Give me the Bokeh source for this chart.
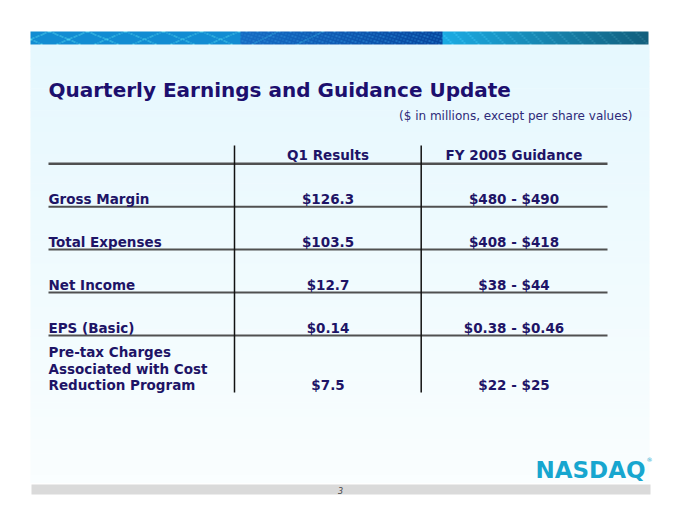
import numpy as np
from bokeh.plotting import figure
from bokeh.models import Range1d
from bokeh.core.properties import value
from bokeh.embed import file_html
from bokeh.resources import INLINE

# ---------------- data ----------------
title_text = "Quarterly Earnings and Guidance Update"
subtitle_text = "($ in millions, except per share values)"
headers = ["Q1 Results", "FY 2005 Guidance"]
row_labels = ["Gross Margin", "Total Expenses", "Net Income", "EPS (Basic)",
              "Pre-tax Charges\nAssociated with Cost\nReduction Program"]
q1_results = ["$126.3", "$103.5", "$12.7", "$0.14", "$7.5"]
fy2005_guidance = ["$480 - $490", "$408 - $418", "$38 - $44", "$0.38 - $0.46", "$22 - $25"]
page_number = "3"
logo_text = "NASDAQ"

# ---------------- layout ----------------
W, H = 664, 509
FONT = "DejaVu Sans"
NAVY = "#1c0f6e"
TEXT_NAVY = "#1e1466"

p = figure(width=W, height=H, x_range=Range1d(0, W), y_range=Range1d(H, 0),
           output_backend="svg", toolbar_location=None, min_border=0,
           x_axis_location=None, y_axis_location=None)
p.grid.visible = False
p.outline_line_color = None
p.background_fill_color = "white"
p.border_fill_color = "white"

# slide background (light blue fading to white)
n_strips = 60
y_top, y_bot = 44, 482
edges = np.linspace(y_top, y_bot, n_strips + 1)
c0 = np.array([230, 248, 254])
c1 = np.array([250, 254, 255])
cols = []
for i in range(n_strips):
    t = i / (n_strips - 1)
    c = (c0 * (1 - t) + c1 * t).astype(int)
    cols.append("#%02x%02x%02x" % tuple(c))
p.quad(left=30, right=649, top=edges[:-1], bottom=edges[1:] + 0.5, color=cols, line_color=None)

# banner
bw, bh = 618, 13
xs = np.arange(bw)[None, :] + 0.5 + np.zeros((bh, 1))
ys = np.arange(bh)[:, None] + 0.5 + np.zeros((1, bw))
R = np.zeros((bh, bw)); G = np.zeros((bh, bw)); B = np.zeros((bh, bw))
m = xs < 210
R[m], G[m], B[m] = 18, 140, 210
arc1 = (np.abs(((xs + 2.4 * ys) % 38) - 19) < 0.9) & m
arc2 = (np.abs(((xs - 2.4 * ys) % 38) - 19) < 0.9) & m
for a in (arc1, arc2):
    R[a], G[a], B[a] = 70, 200, 232
m2 = (xs >= 210) & (xs < 412)
t2 = (xs - 210) / 202
R[m2] = (22 * (1 - t2) + 8 * t2)[m2]
G[m2] = (108 * (1 - t2) + 72 * t2)[m2]
B[m2] = (196 * (1 - t2) + 160 * t2)[m2]
dl = (np.abs(((xs - 3.2 * ys) % 11) - 5.5) < 0.7) & m2
R[dl], G[dl], B[dl] = 45, 140, 215
arc3 = (np.abs(((xs + 2.0 * ys) % 45) - 22.5) < 0.8) & m2 & (xs < 300)
R[arc3], G[arc3], B[arc3] = 60, 190, 230
m3 = xs >= 412
t3 = (xs - 412) / 206
R[m3] = (28 * (1 - t3) + 18 * t3)[m3]
G[m3] = (172 * (1 - t3) + 95 * t3)[m3]
B[m3] = (228 * (1 - t3) + 125 * t3)[m3]
st = (np.abs(((xs - 14 * ys) % 26) - 13) < 1.2) & m3
R[st] = np.minimum(R[st] + 30, 255); G[st] = np.minimum(G[st] + 30, 255); B[st] = np.minimum(B[st] + 25, 255)
img = np.zeros((bh, bw, 4), dtype=np.uint8)
img[..., 0] = R; img[..., 1] = G; img[..., 2] = B; img[..., 3] = 255
p.image_rgba(image=[img.view(np.uint32).reshape(bh, bw)], x=30, y=31, dw=bw, dh=bh)

# title & subtitle
x_left = 48
p.text(x=[x_left], y=[89], text=[title_text], text_font=value(FONT), text_font_style="bold",
       text_font_size="20px", text_color=NAVY, text_baseline="middle", text_align="left")
p.text(x=[632], y=[115], text=[subtitle_text], text_font=value(FONT),
       text_font_size="12px", text_color="#2e2a78", text_baseline="middle", text_align="right")

# table geometry
x_right = 607
col_centers = [327.5, 513.5]
v_lines_x = [234, 420.7]
header_line_y = 163.3
row_pitch = 42.9
row_line_ys = [header_line_y + row_pitch * (i + 1) for i in range(len(row_labels) - 1)]

p.segment(x0=[x_left], x1=[x_right], y0=[header_line_y], y1=[header_line_y],
          line_width=2.5, line_color="#505050")
p.segment(x0=[x_left] * len(row_line_ys), x1=[x_right] * len(row_line_ys),
          y0=row_line_ys, y1=row_line_ys, line_width=2, line_color="#505050")
p.segment(x0=v_lines_x, x1=v_lines_x, y0=[145, 145], y1=[392, 392],
          line_width=1.5, line_color="#111111")

FS = "13.5px"
p.text(x=col_centers, y=[154, 154], text=headers, text_font=value(FONT), text_font_style="bold",
       text_font_size=FS, text_color=TEXT_NAVY, text_baseline="middle", text_align="center")

lab_x, lab_y, lab_t = [], [], []
val_x, val_y, val_t = [], [], []
for i, lab in enumerate(row_labels):
    parts = lab.split("\n")
    if i < len(row_line_ys):
        base_y = row_line_ys[i] - 7.5
    else:
        base_y = 384.5
    for j, part in enumerate(parts):
        lab_x.append(x_left)
        lab_y.append(base_y - 16.5 * (len(parts) - 1 - j))
        lab_t.append(part)
    val_x += col_centers
    val_y += [base_y, base_y]
    val_t += [q1_results[i], fy2005_guidance[i]]

p.text(x=lab_x, y=lab_y, text=lab_t, text_font=value(FONT), text_font_style="bold",
       text_font_size=FS, text_color=TEXT_NAVY, text_baseline="middle", text_align="left")
p.text(x=val_x, y=val_y, text=val_t, text_font=value(FONT), text_font_style="bold",
       text_font_size=FS, text_color=TEXT_NAVY, text_baseline="middle", text_align="center")

# logo
p.text(x=[535], y=[469], text=[logo_text], text_font=value(FONT), text_font_style="bold",
       text_font_size="23px", text_color="#17a6cf", text_baseline="middle", text_align="left")
p.text(x=[646], y=[459], text=["®"], text_font=value(FONT),
       text_font_size="6px", text_color="#17a6cf", text_baseline="middle", text_align="left")

# footer bar and page number
p.quad(left=31, right=650, top=484, bottom=494, color="#dadada", line_color=None)
p.text(x=[340], y=[489.5], text=[page_number], text_font=value(FONT), text_font_style="italic",
       text_font_size="8px", text_color="#444444", text_baseline="middle", text_align="center")

open("out.html", "w").write(file_html(p, INLINE))
